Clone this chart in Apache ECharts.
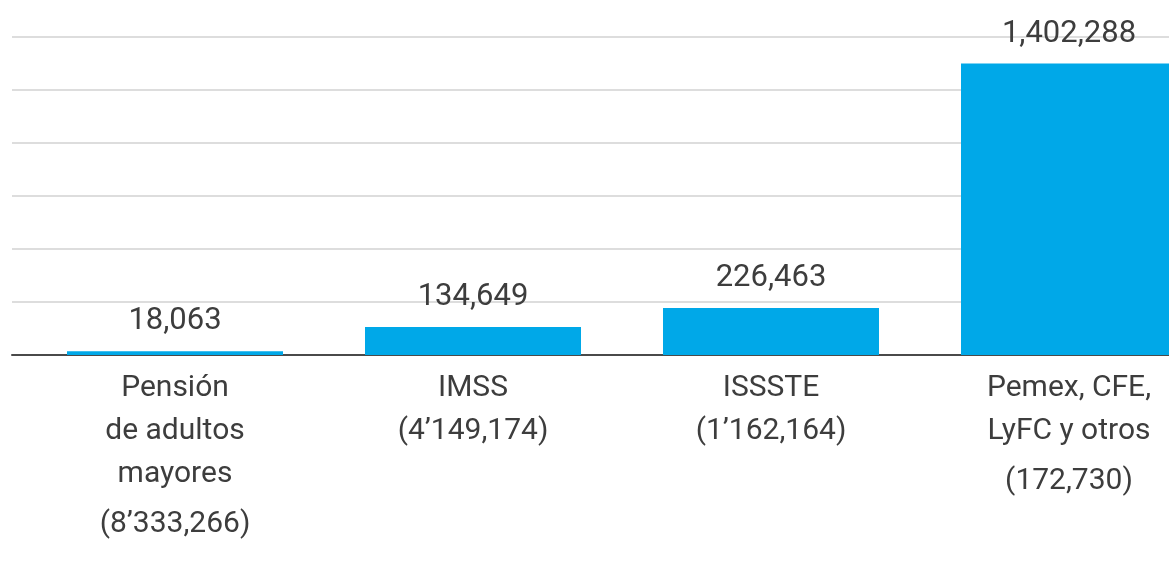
<!DOCTYPE html>
<html style="height: 100%">
<head>
    <meta charset="utf-8">
    <script src="https://cdn.jsdelivr.net/npm/echarts@6/dist/echarts.min.js"></script>
</head>
<body style="height: 100%; margin: 0; background: #fff; overflow: hidden">
<!-- container is wider than the window: the last bar gets cut at the edge as in the original -->
<div id="container" style="width: 1218px; height: 564px"></div>
<script type="text/javascript">
    var categories = ['Pensión\nde adultos\nmayores', 'IMSS', 'ISSSTE', 'Pemex, CFE,\nLyFC y otros'];
    var beneficiarios = ['(8’333,266)', '(4’149,174)', '(1’162,164)', '(172,730)'];
    var values = [18063, 134649, 226463, 1402288];

    var font = 'Roboto, "Open Sans", sans-serif';
    var textColor = '#3d3d3d';

    var dom = document.getElementById('container');
    var myChart = echarts.init(dom);

    var option = {
        animation: false,
        backgroundColor: '#fff',
        grid: [
            // only the guide lines
            {left: 12, right: 49, top: 37, bottom: 209},
            // the bars
            {left: 26, right: 0, top: 37, bottom: 209}
        ],
        xAxis: [
            {
                gridIndex: 0,
                type: 'value',
                min: 0,
                max: 1,
                axisLine: {show: true, lineStyle: {color: '#4a4a4a', width: 2}},
                axisTick: {show: false},
                axisLabel: {show: false},
                splitLine: {show: false}
            },
            {
                gridIndex: 1,
                type: 'category',
                data: categories,
                axisLine: {show: false},
                axisTick: {show: false},
                axisLabel: {
                    margin: 12,
                    interval: 0,
                    formatter: function (name, idx) {
                        var lines = name.split('\n').map(function (l) {
                            return '{a|' + l + '}';
                        });
                        var style = lines.length > 1 ? 'b' : 'a';
                        lines.push('{' + style + '|' + beneficiarios[idx] + '}');
                        return lines.join('\n');
                    },
                    rich: {
                        a: {fontFamily: font, fontSize: 30, lineHeight: 43, color: textColor, align: 'center'},
                        b: {fontFamily: font, fontSize: 30, lineHeight: 56, color: textColor, align: 'center'}
                    }
                }
            }
        ],
        yAxis: [
            {
                gridIndex: 0,
                type: 'value',
                min: 0,
                max: 1530000,
                interval: 255000,
                axisLine: {show: false},
                axisTick: {show: false},
                axisLabel: {show: false},
                splitLine: {lineStyle: {color: '#d2d2d2', width: 1.5}}
            },
            {
                gridIndex: 1,
                type: 'value',
                min: 0,
                max: 1530000,
                interval: 255000,
                show: false
            }
        ],
        series: [
            {
                type: 'bar',
                xAxisIndex: 1,
                yAxisIndex: 1,
                data: values,
                barWidth: 216,
                itemStyle: {color: '#00a8e8'},
                label: {
                    show: true,
                    position: 'top',
                    distance: 14,
                    fontFamily: font,
                    fontSize: 31,
                    color: textColor,
                    formatter: function (p) {
                        return p.value.toLocaleString('en-US');
                    }
                }
            }
        ]
    };

    myChart.setOption(option);
</script>
</body>
</html>
